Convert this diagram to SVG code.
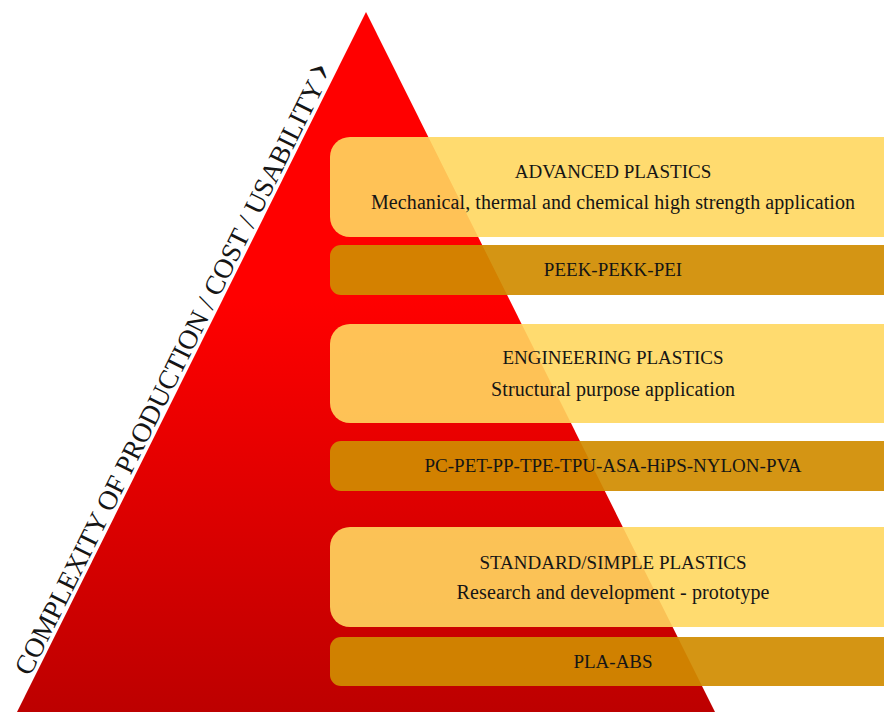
<svg xmlns="http://www.w3.org/2000/svg" width="884" height="712" viewBox="0 0 884 712">
  <defs>
    <linearGradient id="redFade" gradientUnits="userSpaceOnUse" x1="0" y1="12" x2="0" y2="712">
      <stop offset="0" stop-color="#FF0000"/>
      <stop offset="0.41" stop-color="#FF0000"/>
      <stop offset="1" stop-color="#BD0000"/>
    </linearGradient>
    <style>
      .band { fill: rgb(255,215,95); fill-opacity: 0.9; }
      .list { fill: rgb(208,140,0); fill-opacity: 0.92; }
      text { font-family: "Liberation Serif", "Times New Roman", serif; fill: #151515; }
      .head { font-size: 19px; text-anchor: middle; }
      .desc { font-size: 20px; text-anchor: middle; }
      .axis { font-size: 27.5px; }
      .chevron { font-size: 46px; }
    </style>
  </defs>

  <rect width="884" height="712" fill="#FFFFFF"/>

  <!-- pyramid -->
  <g id="pyramid">
    <polygon points="366,12 17,712 715,712" fill="url(#redFade)"/>
  </g>

  <!-- axis label running along the left slope -->
  <g id="axis-label">
    <text class="axis" transform="translate(30,677) rotate(-63.5)">COMPLEXITY OF PRODUCTION / COST / USABILITY<tspan class="chevron" dx="4" dy="-1">›</tspan></text>
  </g>

  <!-- top tier -->
  <g id="advanced">
    <rect class="band" x="330" y="137" width="580" height="100" rx="20"/>
    <text class="head" x="613" y="178">ADVANCED PLASTICS</text>
    <text class="desc" x="613" y="209" textLength="484">Mechanical, thermal and chemical high strength application</text>
  </g>
  <g id="advanced-materials">
    <rect class="list" x="330" y="245" width="580" height="50" rx="11"/>
    <text class="head" x="613" y="276">PEEK-PEKK-PEI</text>
  </g>

  <!-- middle tier -->
  <g id="engineering">
    <rect class="band" x="330" y="324" width="580" height="99" rx="20"/>
    <text class="head" x="613" y="364">ENGINEERING PLASTICS</text>
    <text class="desc" x="613" y="396" textLength="244">Structural purpose application</text>
  </g>
  <g id="engineering-materials">
    <rect class="list" x="330" y="441" width="580" height="50" rx="11"/>
    <text class="head" x="613" y="472">PC-PET-PP-TPE-TPU-ASA-HiPS-NYLON-PVA</text>
  </g>

  <!-- bottom tier -->
  <g id="standard">
    <rect class="band" x="330" y="527" width="580" height="100" rx="20"/>
    <text class="head" x="613" y="569">STANDARD/SIMPLE PLASTICS</text>
    <text class="desc" x="613" y="599" textLength="313">Research and development - prototype</text>
  </g>
  <g id="standard-materials">
    <rect class="list" x="330" y="637" width="580" height="49" rx="11"/>
    <text class="head" x="613" y="668">PLA-ABS</text>
  </g>
</svg>
